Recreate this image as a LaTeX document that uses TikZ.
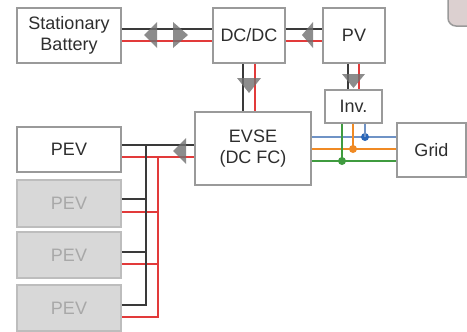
\documentclass[tikz,border=0pt]{standalone}
\usepackage{fontspec}
\setmainfont{Liberation Sans}
\begin{document}
\begin{tikzpicture}[x=1pt,y=-1pt,
  box/.style={draw=boxgray,line width=1.5pt,fill=white,inner sep=0pt,font=\fontsize{18}{21}\selectfont,text=txt,align=center},
  gbox/.style={box,fill=pevgray,draw=pevline,text=pevtxt},
  blk/.style={draw=wireblk,line width=2pt},
  red/.style={draw=wirered,line width=2pt},
  arr/.style={fill=arrgray,fill opacity=0.8},
  dot/.style={circle,inner sep=0pt,minimum size=8pt}]
\definecolor{boxgray}{HTML}{9A9A9A}
\definecolor{pevgray}{HTML}{D8D8D8}
\definecolor{pevline}{HTML}{BDBDBD}
\definecolor{pevtxt}{HTML}{A8A8A8}
\definecolor{txt}{HTML}{2E2E2E}
\definecolor{wireblk}{HTML}{3A3A3A}
\definecolor{wirered}{HTML}{E23A3A}
\definecolor{arrgray}{HTML}{707070}
\definecolor{cblue}{HTML}{6F93C6}
\definecolor{cblued}{HTML}{2A66B8}
\definecolor{corange}{HTML}{F08A24}
\definecolor{cgreen}{HTML}{3F9B3F}
\definecolor{cornerfill}{HTML}{DCD0D0}
\useasboundingbox (0,0) rectangle (467,332);
\clip (0,0) rectangle (467,332);
\fill[white] (0,0) rectangle (467,332);
% corner shape
\draw[draw=boxgray,line width=1.5pt,fill=cornerfill,rounded corners=8pt] (448,-12) rectangle (490,26);
% boxes
\node[box,minimum width=104pt,minimum height=55pt] (bat) at (69,35.5) {Stationary\\Battery};
\node[box,minimum width=72pt,minimum height=55pt] (dcdc) at (249,35.5) {DC/DC};
\node[box,minimum width=62pt,minimum height=55pt] (pv) at (354,35.5) {PV};
\node[box,minimum width=57pt,minimum height=33pt] (inv) at (353.5,106.5) {Inv.};
\node[box,minimum width=116pt,minimum height=73pt] (evse) at (253,148.5) {EVSE\\(DC FC)};
\node[box,minimum width=69pt,minimum height=54pt] (grid) at (431.5,150) {Grid};
\node[box,minimum width=104pt,minimum height=45pt] (pev1) at (69,149.5) {PEV};
\node[gbox,minimum width=104pt,minimum height=47pt] (pev2) at (69,203.5) {PEV};
\node[gbox,minimum width=104pt,minimum height=46pt] (pev3) at (69,255) {PEV};
\node[gbox,minimum width=104pt,minimum height=46pt] (pev4) at (69,308) {PEV};
% helper coordinates
\coordinate (y29) at (0,29);
\coordinate (y41) at (0,41);
\coordinate (xb1) at (243,0);
\coordinate (xr1) at (255,0);
\coordinate (xb2) at (348,0);
\coordinate (xr2) at (359,0);
\coordinate (yb) at (0,137);
\coordinate (yo) at (0,149);
\coordinate (yg) at (0,161);
\coordinate (xg) at (342,0);
\coordinate (xo) at (353,0);
\coordinate (xbl) at (365,0);
\coordinate (pk1) at (0,145);
\coordinate (pr1) at (0,157);
\coordinate (pk2) at (0,199);
\coordinate (pr2) at (0,212);
\coordinate (pk3) at (0,252);
\coordinate (pr3) at (0,264);
\coordinate (pk4) at (0,305);
\coordinate (pr4) at (0,317);
\coordinate (busk) at (146,0);
\coordinate (busr) at (158,0);
% battery - dcdc
\draw[blk] (bat.east |- y29) -- (dcdc.west |- y29);
\draw[red] (bat.east |- y41) -- (dcdc.west |- y41);
% dcdc - pv
\draw[blk] (dcdc.east |- y29) -- (pv.west |- y29);
\draw[red] (dcdc.east |- y41) -- (pv.west |- y41);
% dcdc - evse
\draw[blk] (xb1 |- dcdc.south) -- (xb1 |- evse.north);
\draw[red] (xr1 |- dcdc.south) -- (xr1 |- evse.north);
% pv - inv
\draw[blk] (xb2 |- pv.south) -- (xb2 |- inv.north);
\draw[red] (xr2 |- pv.south) -- (xr2 |- inv.north);
% evse - grid three phase
\draw[cblue,line width=2pt] (evse.east |- yb) -- (grid.west |- yb);
\draw[corange,line width=2pt] (evse.east |- yo) -- (grid.west |- yo);
\draw[cgreen,line width=2pt] (evse.east |- yg) -- (grid.west |- yg);
\node[dot,fill=cblued] (db) at (xbl |- yb) {};
\node[dot,fill=corange] (do) at (xo |- yo) {};
\node[dot,fill=cgreen] (dg) at (xg |- yg) {};
\draw[cblue,line width=2pt] (xbl |- inv.south) -- (db.center);
\draw[corange,line width=2pt] (xo |- inv.south) -- (do.center);
\draw[cgreen,line width=2pt] (xg |- inv.south) -- (dg.center);
% evse - pev bus
\draw[blk] (pev1.east |- pk1) -- (evse.west |- pk1);
\draw[red] (pev1.east |- pr1) -- (evse.west |- pr1);
\draw[blk] (pev2.east |- pk2) -- (busk |- pk2);
\draw[red] (pev2.east |- pr2) -- (busr |- pr2);
\draw[blk] (pev3.east |- pk3) -- (busk |- pk3);
\draw[red] (pev3.east |- pr3) -- (busr |- pr3);
\draw[blk] (pev4.east |- pk4) -- (busk |- pk4) -- (busk |- pk1);
\draw[red] (pev4.east |- pr4) -- (busr |- pr4) -- (busr |- pr1);
% arrowheads
\fill[arr] (144,35) -- (157,22) -- (157,48) -- cycle;
\fill[arr] (188,35) -- (173,22) -- (173,48) -- cycle;
\fill[arr] (302,35) -- (313,22) -- (313,48) -- cycle;
\fill[arr] (249,93) -- (237,78) -- (261,78) -- cycle;
\fill[arr] (353.5,88) -- (342,74) -- (365,74) -- cycle;
\fill[arr] (173,151) -- (186,138) -- (186,164) -- cycle;
\end{tikzpicture}
\end{document}
